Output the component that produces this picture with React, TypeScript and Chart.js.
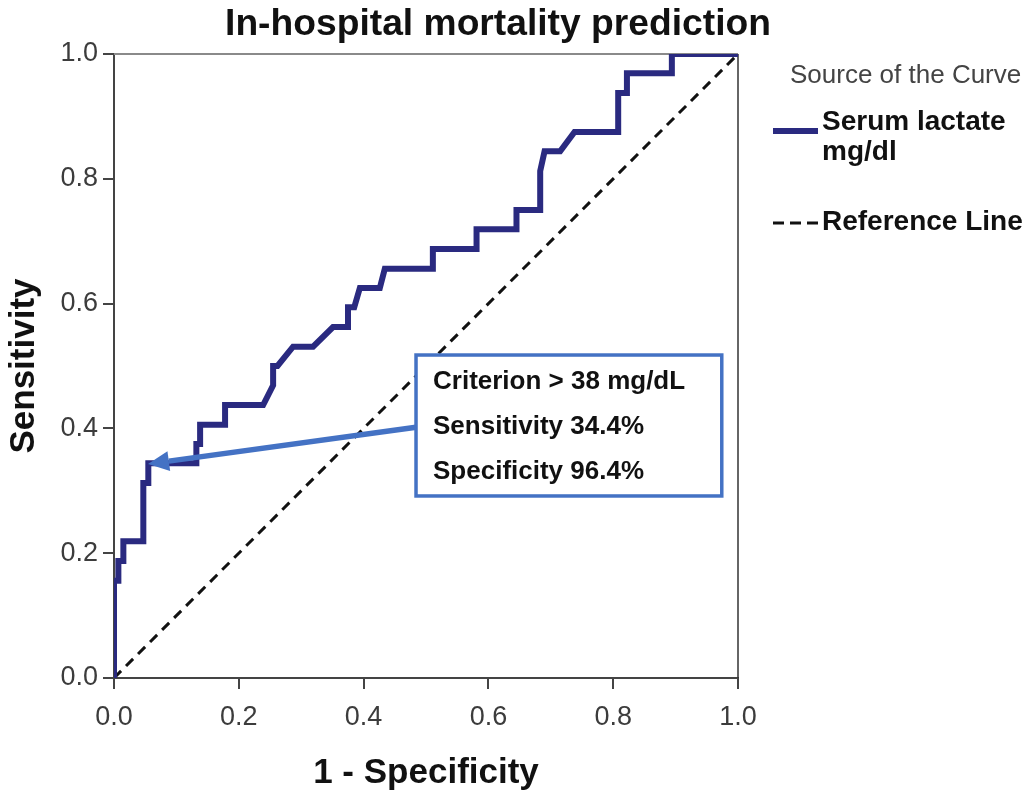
import React, { useEffect, useRef } from "react";
import { Chart, registerables } from "chart.js";

Chart.register(...registerables);

// ---- data ----
const rocFpr = [
  0, 0, 0.007, 0.007, 0.015, 0.015, 0.047, 0.047, 0.055, 0.055,
  0.132, 0.132, 0.138, 0.138, 0.178, 0.178, 0.239, 0.255, 0.255, 0.262,
  0.287, 0.319, 0.351, 0.375, 0.375, 0.385, 0.394, 0.426, 0.434, 0.511,
  0.511, 0.581, 0.581, 0.645, 0.645, 0.683, 0.683, 0.69, 0.715, 0.738,
  0.808, 0.808, 0.822, 0.822, 0.894, 0.894, 1,
];
const rocTpr = [
  0, 0.156, 0.156, 0.1875, 0.1875, 0.219, 0.219, 0.3125, 0.3125, 0.344,
  0.344, 0.375, 0.375, 0.406, 0.406, 0.4375, 0.4375, 0.469, 0.5, 0.5,
  0.531, 0.531, 0.5625, 0.5625, 0.594, 0.594, 0.625, 0.625, 0.656, 0.656,
  0.6875, 0.6875, 0.719, 0.719, 0.75, 0.75, 0.8125, 0.844, 0.844, 0.875,
  0.875, 0.9375, 0.9375, 0.969, 0.969, 1, 1,
];
const refFpr = [0, 1];
const refTpr = [0, 1];
const axisTicks = [0, 0.2, 0.4, 0.6, 0.8, 1.0];

const chartTitle = "In-hospital mortality prediction";
const xTitle = "1 - Specificity";
const yTitle = "Sensitivity";
const legendHeader = "Source of the Curve";
const seriesNames = [["Serum lactate", "mg/dl"], ["Reference Line"]];
const criterionLines = ["Criterion > 38 mg/dL", "Sensitivity 34.4%", "Specificity 96.4%"];
// point on the curve the arrow designates (1 - specificity, sensitivity)
const criterionPoint = [0.0545, 0.343];

const FAM = '"Liberation Sans", Arial, Helvetica, sans-serif';
const NAVY = "#2A2A80";
const ARROW_BLUE = "#4472C4";

const decorPlugin = {
  id: "decor",
  beforeDatasetsDraw(chart: any) {
    const { ctx, chartArea } = chart;
    ctx.save();
    // frame top and right
    ctx.lineWidth = 2;
    ctx.strokeStyle = "#8a8a8a";
    ctx.beginPath();
    ctx.moveTo(chartArea.left, chartArea.top);
    ctx.lineTo(chartArea.right, chartArea.top);
    ctx.stroke();
    ctx.strokeStyle = "#333";
    ctx.lineWidth = 1.5;
    ctx.beginPath();
    ctx.moveTo(chartArea.right, chartArea.top);
    ctx.lineTo(chartArea.right, chartArea.bottom);
    ctx.stroke();
    ctx.restore();
  },
  afterDraw(chart: any) {
    const { ctx, chartArea, scales } = chart;
    const xs = scales.x;
    const ys = scales.y;
    ctx.save();

    // ---- title ----
    const tFam = '"Liberation Sans Narrow", "Liberation Sans", Arial, sans-serif';
    ctx.font = `bold 40px ${tFam}`;
    const w40 = ctx.measureText(chartTitle).width;
    const tSize = Math.min(46, (40 * 546) / w40);
    ctx.font = `bold ${tSize}px ${tFam}`;
    ctx.fillStyle = "#111";
    ctx.textAlign = "center";
    ctx.textBaseline = "alphabetic";
    ctx.fillText(chartTitle, 498, 35);

    // ---- criterion box ----
    const bl = xs.getPixelForValue(0.484);
    const br = xs.getPixelForValue(0.974);
    const bt = ys.getPixelForValue(0.5176);
    const bb = ys.getPixelForValue(0.2917);
    ctx.fillStyle = "#fff";
    ctx.fillRect(bl, bt, br - bl, bb - bt);
    ctx.strokeStyle = ARROW_BLUE;
    ctx.lineWidth = 3.5;
    ctx.strokeRect(bl, bt, br - bl, bb - bt);
    ctx.fillStyle = "#111";
    ctx.font = `bold 26px ${FAM}`;
    ctx.textAlign = "left";
    ctx.textBaseline = "middle";
    criterionLines.forEach((t, i) => {
      ctx.fillText(t, bl + 17, bt + 27 + i * 45);
    });

    // ---- arrow ----
    const tipX = xs.getPixelForValue(criterionPoint[0]);
    const tipY = ys.getPixelForValue(criterionPoint[1]);
    const tailX = bl;
    const tailY = ys.getPixelForValue(0.402);
    const ang = Math.atan2(tipY - tailY, tipX - tailX);
    const headLen = 21;
    const headW = 10;
    const baseX = tipX - headLen * Math.cos(ang);
    const baseY = tipY - headLen * Math.sin(ang);
    ctx.strokeStyle = ARROW_BLUE;
    ctx.lineWidth = 5.5;
    ctx.lineCap = "butt";
    ctx.beginPath();
    ctx.moveTo(tailX, tailY);
    ctx.lineTo(baseX, baseY);
    ctx.stroke();
    ctx.fillStyle = ARROW_BLUE;
    ctx.beginPath();
    ctx.moveTo(tipX, tipY);
    ctx.lineTo(baseX + headW * Math.sin(ang), baseY - headW * Math.cos(ang));
    ctx.lineTo(baseX - headW * Math.sin(ang), baseY + headW * Math.cos(ang));
    ctx.closePath();
    ctx.fill();

    // ---- legend ----
    const lx = chartArea.right;
    ctx.textAlign = "left";
    ctx.textBaseline = "middle";
    ctx.fillStyle = "#444";
    ctx.font = `26px ${FAM}`;
    ctx.fillText(legendHeader, lx + 52, 76);

    ctx.strokeStyle = NAVY;
    ctx.lineWidth = 6;
    ctx.beginPath();
    ctx.moveTo(lx + 35, 131);
    ctx.lineTo(lx + 80, 131);
    ctx.stroke();
    ctx.fillStyle = "#111";
    ctx.font = `bold 28px ${FAM}`;
    seriesNames[0].forEach((t, i) => ctx.fillText(t, lx + 84, 122 + i * 30));

    ctx.strokeStyle = "#111";
    ctx.lineWidth = 3;
    ctx.setLineDash([11, 6]);
    ctx.beginPath();
    ctx.moveTo(lx + 35, 223);
    ctx.lineTo(lx + 80, 223);
    ctx.stroke();
    ctx.setLineDash([]);
    seriesNames[1].forEach((t, i) => ctx.fillText(t, lx + 84, 222 + i * 30));

    ctx.restore();
  },
};

export default function App() {
  const canvasRef = useRef<HTMLCanvasElement | null>(null);

  useEffect(() => {
    if (!canvasRef.current) return;
    const tickFont = { family: FAM, size: 27 };
    const titleFont = { family: FAM, size: 35, weight: "bold" as const };
    const chart = new Chart(canvasRef.current, {
      type: "scatter",
      data: {
        datasets: [
          {
            label: seriesNames[0].join(" "),
            data: rocFpr.map((x, i) => ({ x, y: rocTpr[i] })),
            showLine: true,
            borderColor: NAVY,
            backgroundColor: NAVY,
            borderWidth: 6,
            pointRadius: 0,
            tension: 0,
            fill: false,
          },
          {
            label: seriesNames[1].join(" "),
            data: refFpr.map((x, i) => ({ x, y: refTpr[i] })),
            showLine: true,
            borderColor: "#111",
            backgroundColor: "#111",
            borderWidth: 3,
            borderDash: [10, 7],
            pointRadius: 0,
            fill: false,
          },
        ],
      },
      options: {
        animation: false,
        responsive: true,
        maintainAspectRatio: false,
        layout: { padding: { left: 0, top: 54, right: 294, bottom: 0 } },
        plugins: {
          legend: { display: false },
          title: { display: false },
          tooltip: { enabled: false },
        },
        scales: {
          x: {
            type: "linear",
            position: "bottom",
            min: 0,
            max: 1,
            afterFit: (s: any) => {
              s.height = 121;
            },
            afterBuildTicks: (s: any) => {
              s.ticks = axisTicks.map((v) => ({ value: v }));
            },
            ticks: {
              callback: (v: any) => Number(v).toFixed(1),
              font: tickFont,
              color: "#3c3c3c",
              padding: 12,
              maxRotation: 0,
            },
            grid: {
              display: true,
              drawOnChartArea: false,
              drawTicks: true,
              tickLength: 11,
              color: "#444",
              lineWidth: 2,
            },
            border: { display: true, color: "#444", width: 2 },
            title: {
              display: true,
              text: xTitle,
              font: titleFont,
              color: "#111",
              padding: { top: 0, bottom: 5 },
            },
          },
          y: {
            type: "linear",
            position: "left",
            min: 0,
            max: 1,
            afterFit: (s: any) => {
              s.width = 114;
            },
            afterBuildTicks: (s: any) => {
              s.ticks = axisTicks.map((v) => ({ value: v }));
            },
            ticks: {
              callback: (v: any) => Number(v).toFixed(1),
              font: tickFont,
              color: "#3c3c3c",
              padding: 5,
            },
            grid: {
              display: true,
              drawOnChartArea: false,
              drawTicks: true,
              tickLength: 11,
              color: "#444",
              lineWidth: 2,
            },
            border: { display: true, color: "#444", width: 2 },
            title: {
              display: true,
              text: yTitle,
              font: titleFont,
              color: "#111",
              padding: { top: 3, bottom: 0 },
            },
          },
        },
      },
      plugins: [decorPlugin],
    });
    return () => chart.destroy();
  }, []);

  return (
    <div
      style={{
        position: "fixed",
        left: 0,
        top: 0,
        width: 1032,
        height: 799,
        background: "#fff",
      }}
    >
      <canvas ref={canvasRef} />
    </div>
  );
}
